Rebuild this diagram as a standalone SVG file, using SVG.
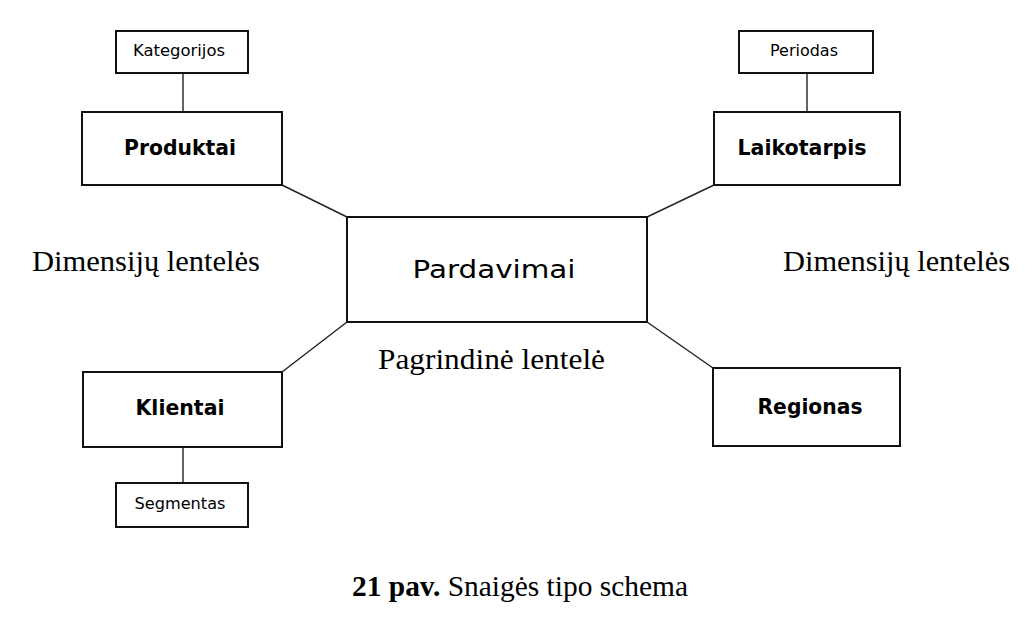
<svg xmlns="http://www.w3.org/2000/svg" width="1036" height="618" viewBox="0 0 1036 618">
<style>
.box{fill:#fff;stroke:#111;stroke-width:2}
.ln{stroke:#222;stroke-width:1.4;fill:none}
.s{font-family:"DejaVu Sans",sans-serif;fill:#000;text-anchor:middle;dominant-baseline:central}
.b{font-weight:bold}
.t{font-family:"Liberation Serif",serif;fill:#000}
</style>
<rect width="1036" height="618" fill="#fff"/>
<g id="connectors">
<line class="ln" x1="183" y1="73" x2="183" y2="112"/>
<line class="ln" x1="807" y1="73" x2="807" y2="112"/>
<line class="ln" x1="183" y1="447" x2="183" y2="483"/>
<line class="ln" x1="282" y1="185" x2="347" y2="217"/>
<line class="ln" x1="714" y1="185" x2="647" y2="217"/>
<line class="ln" x1="347" y1="322" x2="282" y2="372"/>
<line class="ln" x1="647" y1="322" x2="713" y2="368"/>
</g>
<g id="kategorijos"><rect class="box" x="116" y="31" width="132" height="42"/><text class="s" font-size="15" x="179" y="51" textLength="92" lengthAdjust="spacingAndGlyphs">Kategorijos</text></g>
<g id="periodas"><rect class="box" x="739" y="31" width="134" height="42"/><text class="s" font-size="15" x="804" y="51" textLength="68" lengthAdjust="spacingAndGlyphs">Periodas</text></g>
<g id="produktai"><rect class="box" x="82" y="112" width="200" height="73"/><text class="s b" font-size="22" x="180" y="147" textLength="112" lengthAdjust="spacingAndGlyphs">Produktai</text></g>
<g id="laikotarpis"><rect class="box" x="714" y="112" width="186" height="73"/><text class="s b" font-size="22" x="802" y="147" textLength="129" lengthAdjust="spacingAndGlyphs">Laikotarpis</text></g>
<g id="pardavimai"><rect class="box" x="347" y="217" width="300" height="105"/><text class="s" font-size="25" x="494" y="269" textLength="163" lengthAdjust="spacingAndGlyphs">Pardavimai</text></g>
<g id="klientai"><rect class="box" x="83" y="372" width="199" height="75"/><text class="s b" font-size="22" x="180" y="407" textLength="89" lengthAdjust="spacingAndGlyphs">Klientai</text></g>
<g id="segmentas"><rect class="box" x="116" y="483" width="132" height="44"/><text class="s" font-size="15" x="180" y="504" textLength="91" lengthAdjust="spacingAndGlyphs">Segmentas</text></g>
<g id="regionas"><rect class="box" x="713" y="368" width="187" height="78"/><text class="s b" font-size="22" x="810" y="406" textLength="105" lengthAdjust="spacingAndGlyphs">Regionas</text></g>
<g id="labels">
<text class="t" font-size="30" x="32" y="271" textLength="228" lengthAdjust="spacingAndGlyphs">Dimensijų lentelės</text>
<text class="t" font-size="30" x="783" y="271" textLength="227" lengthAdjust="spacingAndGlyphs">Dimensijų lentelės</text>
<text class="t" font-size="30" x="378" y="369" textLength="227" lengthAdjust="spacingAndGlyphs">Pagrindinė lentelė</text>
<text class="t" font-size="30" x="352" y="596" textLength="336" lengthAdjust="spacingAndGlyphs"><tspan font-weight="bold">21 pav.</tspan> Snaigės tipo schema</text>
</g>
</svg>
